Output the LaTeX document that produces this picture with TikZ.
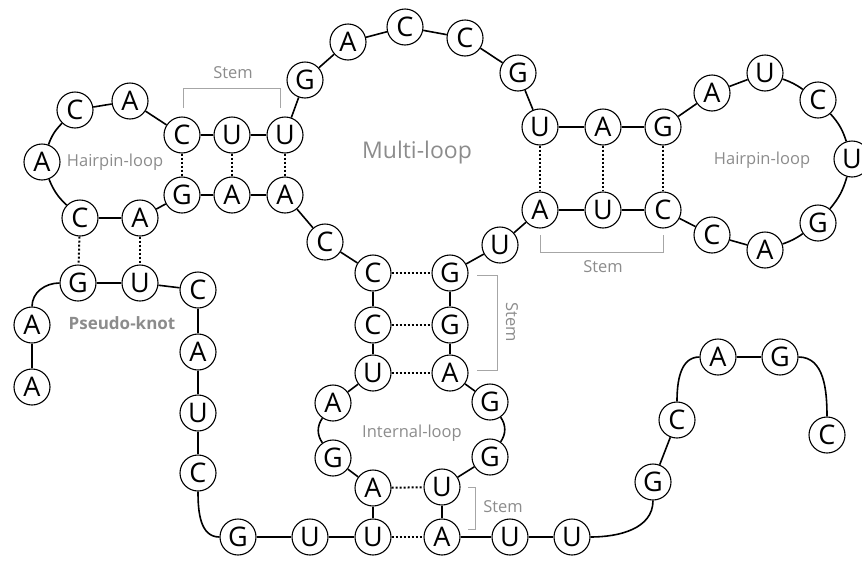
\documentclass[tikz,border=0pt]{standalone}
\usepackage{fontspec}
\setmainfont{Open Sans}
\begin{document}
\begin{tikzpicture}[x=1pt,y=1pt,
  base/.style={circle,draw=black,line width=1.1pt,fill=white,minimum size=36pt,inner sep=0pt,font=\fontsize{27}{27}\selectfont},
  bb/.style={line width=1.6pt,black},
  pair/.style={line width=2pt,black,dotted},
  lbl/.style={text=black!45,font=\fontsize{16.5}{16.5}\selectfont,inner sep=0pt},
  brk/.style={black!35,line width=0.8pt}]
\useasboundingbox (0,0) rectangle (862,-560);
% nodes
\node[base] (a1) at (32,-387) {A};
\node[base] (a2) at (32,-325) {A};
\node[base] (g3) at (78,-283) {G};
\node[base] (u4) at (140,-283) {U};
\node[base] (c5) at (198,-290) {C};
\node[base] (a6) at (198,-352) {A};
\node[base] (u7) at (198,-413) {U};
\node[base] (c8) at (198,-473) {C};
\node[base] (g9) at (238,-537) {G};
\node[base] (u10) at (310,-537) {U};
\node[base] (u11) at (373,-537) {U};
\node[base] (a12) at (373,-488) {A};
\node[base] (g13) at (333,-458) {G};
\node[base] (a14) at (333,-403) {A};
\node[base] (u15) at (373,-373) {U};
\node[base] (c16) at (373,-325) {C};
\node[base] (c17) at (373,-273) {C};
\node[base] (c18) at (325,-242) {C};
\node[base] (a19) at (285,-195) {A};
\node[base] (a20) at (232,-195) {A};
\node[base] (g21) at (182,-195) {G};
\node[base] (a22) at (140,-218) {A};
\node[base] (c23) at (80,-218) {C};
\node[base] (a24) at (42,-162) {A};
\node[base] (c25) at (75,-110) {C};
\node[base] (a26) at (130,-101) {A};
\node[base] (c27) at (182,-135) {C};
\node[base] (u28) at (232,-135) {U};
\node[base] (u29) at (285,-135) {U};
\node[base] (g30) at (305,-80) {G};
\node[base] (a31) at (348,-42) {A};
\node[base] (c32) at (405,-27) {C};
\node[base] (c33) at (465,-38) {C};
\node[base] (g34) at (518,-73) {G};
\node[base] (u35) at (540,-127) {U};
\node[base] (a36) at (603,-127) {A};
\node[base] (g37) at (663,-127) {G};
\node[base] (a38) at (712,-93) {A};
\node[base] (u39) at (765,-73) {U};
\node[base] (c40) at (818,-100) {C};
\node[base] (u41) at (852,-159) {U};
\node[base] (g42) at (818,-223) {G};
\node[base] (a43) at (765,-250) {A};
\node[base] (c44) at (712,-235) {C};
\node[base] (c45) at (663,-210) {C};
\node[base] (u46) at (603,-210) {U};
\node[base] (a47) at (540,-210) {A};
\node[base] (u48) at (500,-245) {U};
\node[base] (g49) at (450,-273) {G};
\node[base] (g50) at (450,-325) {G};
\node[base] (a51) at (450,-373) {A};
\node[base] (g52) at (490,-402) {G};
\node[base] (g53) at (490,-457) {G};
\node[base] (u54) at (442,-487) {U};
\node[base] (a55) at (442,-537) {A};
\node[base] (u56) at (510,-537) {U};
\node[base] (u57) at (572,-537) {U};
\node[base] (g58) at (653,-482) {G};
\node[base] (c59) at (677,-420) {C};
\node[base] (a60) at (718,-357) {A};
\node[base] (g61) at (780,-357) {G};
\node[base] (c62) at (827,-435) {C};
% backbone
\draw[bb] (a1) -- (a2);
\draw[bb] (a2.north) to[out=90,in=180] (g3.west);
\draw[bb] (g3) -- (u4);
\draw[bb] (u4) -- (c5);
\draw[bb] (c5) -- (a6);
\draw[bb] (a6) -- (u7);
\draw[bb] (u7) -- (c8);
\draw[bb] (c8.south) to[out=-90,in=180] (g9.west);
\draw[bb] (g9) -- (u10);
\draw[bb] (u10) -- (u11);
\draw[bb] (u11) -- (a12);
\draw[bb] (a12) -- (g13);
\draw[bb] (g13) to[bend left=35] (a14);
\draw[bb] (a14) -- (u15);
\draw[bb] (u15) -- (c16);
\draw[bb] (c16) -- (c17);
\draw[bb] (c17) -- (c18);
\draw[bb] (c18) -- (a19);
\draw[bb] (a19) -- (a20);
\draw[bb] (a20) -- (g21);
\draw[bb] (g21) -- (a22);
\draw[bb] (a22) -- (c23);
\draw[bb] (c23) to[bend left=12] (a24);
\draw[bb] (a24) to[bend left=12] (c25);
\draw[bb] (c25) -- (a26);
\draw[bb] (a26) -- (c27);
\draw[bb] (c27) -- (u28);
\draw[bb] (u28) -- (u29);
\draw[bb] (u29) -- (g30);
\draw[bb] (g30) -- (a31);
\draw[bb] (a31) -- (c32);
\draw[bb] (c32) -- (c33);
\draw[bb] (c33) -- (g34);
\draw[bb] (g34) -- (u35);
\draw[bb] (u35) -- (a36);
\draw[bb] (a36) -- (g37);
\draw[bb] (g37) -- (a38);
\draw[bb] (a38) -- (u39);
\draw[bb] (u39) to[bend left=8] (c40);
\draw[bb] (c40) to[bend left=12] (u41);
\draw[bb] (u41) to[bend left=12] (g42);
\draw[bb] (g42) to[bend left=8] (a43);
\draw[bb] (a43) -- (c44);
\draw[bb] (c44) -- (c45);
\draw[bb] (c45) -- (u46);
\draw[bb] (u46) -- (a47);
\draw[bb] (a47) -- (u48);
\draw[bb] (u48) -- (g49);
\draw[bb] (g49) -- (g50);
\draw[bb] (g50) -- (a51);
\draw[bb] (a51) -- (g52);
\draw[bb] (g52) to[bend left=35] (g53);
\draw[bb] (g53) -- (u54);
\draw[bb] (u54) -- (a55);
\draw[bb] (a55) -- (u56);
\draw[bb] (u56) -- (u57);
\draw[bb] (u57.east) to[out=0,in=-90] (g58.south);
\draw[bb] (g58) -- (c59);
\draw[bb] (c59.north) to[out=90,in=180] (a60.west);
\draw[bb] (a60) -- (g61);
\draw[bb] (g61.east) to[out=0,in=90] (c62.north);
% base pairs
\draw[pair] (c27) -- (g21);
\draw[pair] (u28) -- (a20);
\draw[pair] (u29) -- (a19);
\draw[pair] (c23) -- (g3);
\draw[pair] (a22) -- (u4);
\draw[pair] (u35) -- (a47);
\draw[pair] (a36) -- (u46);
\draw[pair] (g37) -- (c45);
\draw[pair] (c17) -- (g49);
\draw[pair] (c16) -- (g50);
\draw[pair] (u15) -- (a51);
\draw[pair] (a12) -- (u54);
\draw[pair] (u11) -- (a55);
% labels
\node[lbl] (hl1) at (115,-162) {Hairpin-loop};
\node[lbl] (hl2) at (762,-160) {Hairpin-loop};
\node[lbl,font=\fontsize{23}{23}\selectfont] (ml) at (417,-153) {Multi-loop};
\node[lbl] (il) at (412,-433) {Internal-loop};
\node[lbl,font=\fontsize{17}{17}\bfseries\selectfont] (pk) at (122,-323) {Pseudo-knot};
\node[lbl] (s1) at (233,-73) {Stem};
\node[lbl] (s2) at (603,-267) {Stem};
\node[lbl,rotate=-90] (s3) at (512,-322) {Stem};
\node[lbl] (s4) at (503,-507) {Stem};
% brackets
\draw[brk] (183,-108) -- (183,-88) -- (280,-88) -- (280,-108);
\draw[brk] (540,-235) -- (540,-252) -- (663,-252) -- (663,-235);
\draw[brk] (477,-275) -- (497,-275) -- (497,-370) -- (477,-370);
\draw[brk] (468,-487) -- (475,-487) -- (475,-529) -- (468,-529);
\end{tikzpicture}
\end{document}
